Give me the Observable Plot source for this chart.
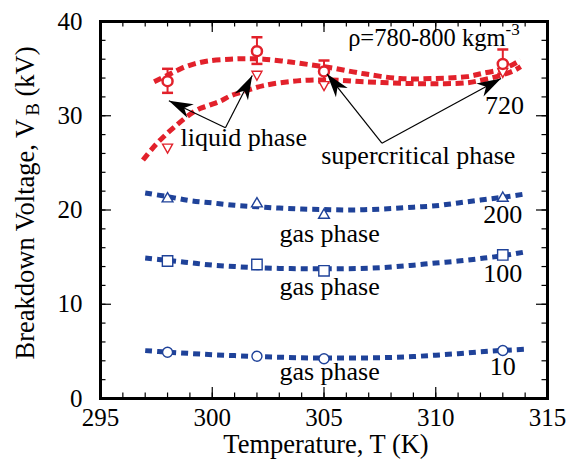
<!DOCTYPE html>
<html><head><meta charset="utf-8">
<script src="https://cdn.jsdelivr.net/npm/d3@7"></script>
<script src="https://cdn.jsdelivr.net/npm/@observablehq/plot@0.6"></script>
<style>body{margin:0;background:#fff}svg{display:block}</style>
</head><body><div id="chart"></div>
<script>
// ---- data ----
const temps = [298, 302, 305, 313];
const v10 = [4.91, 4.49, 4.21, 5.09];
const v100 = [14.59, 14.22, 13.55, 15.23];
const v200 = [21.19, 20.66, 19.45, 21.25];
const v720 = [26.67, 34.4, 33.3, 34.7];
const v780 = [33.67, 36.85, 34.7, 35.5];
const v780lo = [32.43, 35.5, 33.5, 34.45];
const v780hi = [34.98, 38.33, 35.86, 37.03];

const fit10 = [[297,5.08],[298,4.92],[299,4.78],[300,4.65],[301,4.55],[302,4.45],[303,4.38],[304,4.32],[305,4.29],[306,4.29],[307,4.31],[308,4.36],[309,4.45],[310,4.6],[311,4.76],[312,4.95],[313,5.1],[314,5.22]];
const fit100 = [[297,14.9],[298,14.65],[299,14.4],[300,14.15],[301,14.0],[302,13.88],[303,13.8],[304,13.77],[305,13.76],[306,13.77],[307,13.82],[308,13.95],[309,14.15],[310,14.38],[311,14.58],[312,14.85],[313,15.15],[314,15.55]];
const fit200 = [[297,21.8],[298,21.42],[299,21.0],[300,20.75],[301,20.5],[302,20.35],[303,20.2],[304,20.1],[305,20.05],[306,20.0],[307,20.05],[308,20.15],[309,20.3],[310,20.45],[311,20.75],[312,21.05],[313,21.35],[314,21.7]];
const fit780 = [[297.4,33.6],[298,34.3],[298.6,35.0],[299.2,35.5],[299.8,35.8],[300.8,36.0],[301.5,36.05],[302.3,36.0],[303.5,35.7],[304.7,35.3],[305.3,35.1],[306.8,34.45],[308.4,33.95],[309.9,33.95],[311.4,34.15],[312.1,34.5],[312.9,34.9],[313.5,35.5],[313.8,35.9]];
const fit720 = [[296.9,25.3],[297.5,27.0],[298.3,28.8],[299.3,30.6],[299.85,31.1],[300.4,31.6],[300.8,32.1],[301.3,32.5],[302.3,33.2],[303.8,33.7],[305.3,33.8],[306.8,33.6],[308.4,33.45],[309.9,33.4],[311.4,33.5],[312.1,33.8],[312.9,34.27],[313.5,34.8],[313.8,35.2]];

const xTickLabels = [295, 300, 305, 310, 315];
const yTickLabels = [0, 10, 20, 30, 40];
const xMinor = d3.range(295, 316, 1);
const yMinor = d3.range(0, 41, 2);

const annoText = ["liquid phase", "supercritical phase", "gas phase", "gas phase", "gas phase", "720", "200", "100", "10"];
const annoT = [301.41, 309.22, 305.25, 305.25, 305.25, 313.08, 313, 313, 313];
const annoV = [26.84, 24.9, 16.59, 11.0, 1.98, 30.2, 18.64, 12.34, 2.51];
const densityLabel = "ρ=780-800 kgm-3";
const densityT = 306.08, densityV = 37.4;

const arrowTailT = [300.59, 300.59, 307.59, 307.59];
const arrowTailV = [28.72, 28.72, 27.09, 27.09];
const arrowTipT = [298.06, 301.79, 305.13, 312.92];
const arrowTipV = [31.6, 34.27, 34.45, 33.95];

// ---- layout ----
const W = 568, H = 469, ML = 100, MR = 21, MT = 21, MB = 71;
const IW = W - ML - MR, IH = H - MT - MB;
const RED = "#e2212b", BLUE = "#1f4299";
const FONT = "'Liberation Serif', 'Times New Roman', serif";

const xs = Plot.scale({x: {domain: [295, 315], range: [ML, W - MR]}});
const ys = Plot.scale({y: {domain: [0, 40], range: [H - MB, MT]}});

const pts = (vals) => temps.map((t, i) => ({t, v: vals[i]}));
const fitRows = (arr) => arr.map(([t, v]) => ({t, v}));
const errRows = temps.map((t, i) => ({t, v: v780[i], lo: v780lo[i], hi: v780hi[i]}));
const annoRows = annoText.map((s, i) => ({s, t: annoT[i], v: annoV[i]}));
const arrowRows = arrowTipT.map((t, i) => {
  const dx = xs.apply(t) - xs.apply(arrowTailT[i]);
  const dy = ys.apply(arrowTipV[i]) - ys.apply(arrowTailV[i]);
  return {t1: arrowTailT[i], v1: arrowTailV[i], t2: t, v2: arrowTipV[i], a: Math.atan2(dy, dx) * 180 / Math.PI};
});

// custom symbols
const triUp = {draw(c) { c.moveTo(0, -6.2); c.lineTo(5.4, 3.1); c.lineTo(-5.4, 3.1); c.closePath(); }};
const triDown = {draw(c) { c.moveTo(0, 6); c.lineTo(5, -3); c.lineTo(-5, -3); c.closePath(); }};
const square = {draw(c) { c.rect(-5.2, -5.2, 10.4, 10.4); }};
const cap = {draw(c) { c.moveTo(-5.5, 0); c.lineTo(5.5, 0); }};
const head = {draw(c) { c.moveTo(0, 0); c.lineTo(-24, -7.5); c.lineTo(-17, 0); c.lineTo(-24, 7.5); c.closePath(); }};

const fitLine = (arr, color, dash, w) => Plot.line(fitRows(arr), {x: "t", y: "v", stroke: color, strokeWidth: w, strokeDasharray: dash, curve: "catmull-rom", strokeLinecap: "butt"});

const chart = Plot.plot({
  width: W, height: H,
  marginLeft: ML, marginRight: MR, marginTop: MT, marginBottom: MB,
  x: {domain: [295, 315], axis: null},
  y: {domain: [0, 40], axis: null},
  style: {fontFamily: FONT, background: "white", color: "black", overflow: "visible"},
  marks: [
    fitLine(fit10, BLUE, "7,5", 5),
    fitLine(fit100, BLUE, "7,5", 5),
    fitLine(fit200, BLUE, "7,5", 5),
    fitLine(fit780, RED, "8,4.5", 5),
    fitLine(fit720, RED, "8,4.5", 5),
    // error bars
    Plot.ruleX(errRows, {x: "t", y1: "lo", y2: "hi", stroke: RED, strokeWidth: 2}),
    Plot.dot(errRows, {x: "t", y: "lo", symbol: cap, stroke: RED, strokeWidth: 2.5}),
    Plot.dot(errRows, {x: "t", y: "hi", symbol: cap, stroke: RED, strokeWidth: 2.5}),
    // markers
    Plot.dot(pts(v10), {x: "t", y: "v", r: 5, symbol: "circle", stroke: BLUE, fill: "white", strokeWidth: 1.4}),
    Plot.dot(pts(v100), {x: "t", y: "v", symbol: square, stroke: BLUE, fill: "white", strokeWidth: 1.4}),
    Plot.dot(pts(v200), {x: "t", y: "v", symbol: triUp, stroke: BLUE, fill: "white", strokeWidth: 1.4}),
    Plot.dot(pts(v720), {x: "t", y: "v", symbol: triDown, stroke: RED, fill: "white", strokeWidth: 1.4}),
    Plot.dot(pts(v780), {x: "t", y: "v", r: 5, symbol: "circle", stroke: RED, fill: "white", strokeWidth: 2.5}),
    // arrows
    Plot.link(arrowRows, {x1: "t1", y1: "v1", x2: "t2", y2: "v2", stroke: "black", strokeWidth: 1.2}),
    Plot.dot(arrowRows, {x: "t2", y: "v2", symbol: head, rotate: "a", fill: "black", stroke: "none"}),
    // annotations
    Plot.text(annoRows, {x: "t", y: "v", text: "s", lineAnchor: "bottom", textAnchor: "middle", fontSize: 26, fill: "black"}),
    Plot.text([densityLabel], {x: () => densityT, y: () => densityV, text: d => d, lineAnchor: "bottom", textAnchor: "start", fontSize: 24.5, fill: "black"}),
    // ticks (inward)
    Plot.tickX(xMinor, {x: d => d, insetTop: IH - 5.5, stroke: "black", strokeWidth: 1.2}),
    Plot.tickX(xMinor, {x: d => d, insetBottom: IH - 5.5, stroke: "black", strokeWidth: 1.2}),
    Plot.tickX(xTickLabels, {x: d => d, insetTop: IH - 11, stroke: "black", strokeWidth: 1.2}),
    Plot.tickX(xTickLabels, {x: d => d, insetBottom: IH - 11, stroke: "black", strokeWidth: 1.2}),
    Plot.tickY(yMinor, {y: d => d, insetRight: IW - 5.5, stroke: "black", strokeWidth: 1.2}),
    Plot.tickY(yMinor, {y: d => d, insetLeft: IW - 5.5, stroke: "black", strokeWidth: 1.2}),
    Plot.tickY(yTickLabels, {y: d => d, insetRight: IW - 11, stroke: "black", strokeWidth: 1.2}),
    Plot.tickY(yTickLabels, {y: d => d, insetLeft: IW - 11, stroke: "black", strokeWidth: 1.2}),
    Plot.frame({stroke: "black", strokeWidth: 3}),
    // tick labels
    Plot.text(xTickLabels, {x: d => d, text: d => String(d), frameAnchor: "bottom", dy: 19, textAnchor: "middle", lineAnchor: "middle", fontSize: 25, fill: "black"}),
    Plot.text(yTickLabels, {y: d => d, text: d => String(d), frameAnchor: "left", dx: -18, textAnchor: "end", lineAnchor: "middle", fontSize: 25, fill: "black"}),
    // axis titles
    Plot.text(["Temperature, T (K)"], {text: d => d, frameAnchor: "bottom", dx: 2, dy: 54, textAnchor: "middle", lineAnchor: "bottom", fontSize: 26.5, fill: "black"}),
    Plot.text(["Breakdown Voltage, V_B (kV)"], {text: d => d, frameAnchor: "left", rotate: -90, dx: -67, dy: -7, textAnchor: "middle", lineAnchor: "bottom", fontSize: 26.5, fill: "black"})
  ]
});
document.getElementById("chart").appendChild(chart);

// rich text: subscript / superscript
chart.querySelectorAll("text").forEach(t => {
  if (t.textContent === "Breakdown Voltage, V_B (kV)") {
    t.innerHTML = 'Breakdown Voltage, V<tspan dx="3" dy="5" font-size="19">B</tspan><tspan dy="-5"> (kV)</tspan>';
  } else if (t.textContent === densityLabel) {
    t.innerHTML = 'ρ=780-800 kgm<tspan dy="-11" font-size="17">-3</tspan>';
  }
});
</script>
</body></html>
